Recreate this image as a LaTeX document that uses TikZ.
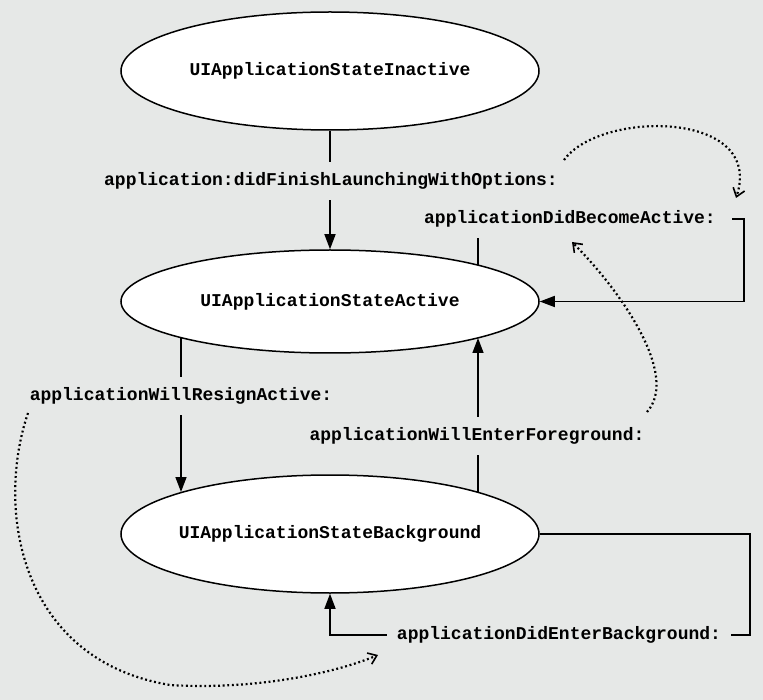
\documentclass[tikz,border=0pt]{standalone}
\usepackage{fontspec}
\setmonofont{Liberation Mono}
\usetikzlibrary{arrows.meta,shapes.geometric}
\definecolor{bgcol}{RGB}{230,232,231}
\tikzset{
  state/.style={ellipse, draw=black, fill=white, line width=1.5pt, minimum width=418pt,
    inner ysep=0pt, inner xsep=-10pt,
    font=\ttfamily\bfseries\fontsize{18}{20}\selectfont},
  lbl/.style={inner xsep=10pt, inner ysep=10.5pt, text height=13pt, text depth=4pt,
    font=\ttfamily\bfseries\fontsize{18}{20}\selectfont},
  conn/.style={line width=1.5pt},
  arr/.style={conn, -{Triangle[length=15pt,width=11pt]}},
  dots/.style={line width=2.2pt, line cap=butt, dash pattern=on 1.9pt off 2.7pt,
    -{Straight Barb[length=8pt,width=12pt,line width=1.6pt]}}
}
\begin{document}
\begin{tikzpicture}[x=1pt,y=-1pt]
\useasboundingbox (0,0) rectangle (763,700);
\fill[bgcol] (0,0) rectangle (763,700);

% states
\node[state, minimum height=118pt] (inactive) at (330,71) {UIApplicationStateInactive};
\node[state, minimum height=103pt] (active) at (330,301.5) {UIApplicationStateActive};
\node[state, minimum height=118pt] (bg) at (330,534) {UIApplicationStateBackground};

% labels
\node[lbl] (L1) at (331,181) {application:didFinishLaunchingWithOptions:};
\node[lbl, inner xsep=16pt] (L2) at (570,219) {applicationDidBecomeActive:};
\node[lbl] (L3) at (477,436) {applicationWillEnterForeground:};
\node[lbl] (L4) at (181,396) {applicationWillResignActive:};
\node[lbl] (L5) at (559,635) {applicationDidEnterBackground:};

% boundary points
\coordinate (aTop2) at (478,265);
\coordinate (aBot4) at (181,338);
\coordinate (aBot3) at (478,338);
\coordinate (bTop4) at (181,492);
\coordinate (bTop3) at (478,492);

% solid connectors
\draw[conn] (inactive.south) -- (inactive.south |- L1.north);
\draw[arr] (active.north |- L1.south) -- (active.north);

\draw[conn] (aTop2) -- (aTop2 |- L2.south);
\draw[arr] (L2.east) -- ++(12,0) |- (active.east);

\draw[conn] (aBot4) -- (aBot4 |- L4.north);
\draw[arr] (bTop4 |- L4.south) -- (bTop4);

\draw[conn] (bTop3) -- (bTop3 |- L3.south);
\draw[arr] (aBot3 |- L3.north) -- (aBot3);

\draw[conn] (bg.east) -- ++(210,0) |- (L5.east);
\draw[arr] (L5.west) -| (bg.south);

% dotted connectors
\coordinate (d1s) at (564,160);
\coordinate (d1e) at (736,198);
\coordinate (d2s) at (647,412);
\coordinate (d2e) at (572,242);
\coordinate (d3s) at (28,413);
\coordinate (d3m) at (170,685);
\coordinate (d3e) at (378,655);
\draw[dots] (d1s) .. controls (600,110) and (765,110) .. (d1e);
\draw[dots] (d2s) .. controls (680,375) and (620,290) .. (d2e);
\draw[dots] (d3s) .. controls (-5,510) and (20,660) .. (d3m) .. controls (250,690) and (330,675) .. (d3e);
\end{tikzpicture}
\end{document}
